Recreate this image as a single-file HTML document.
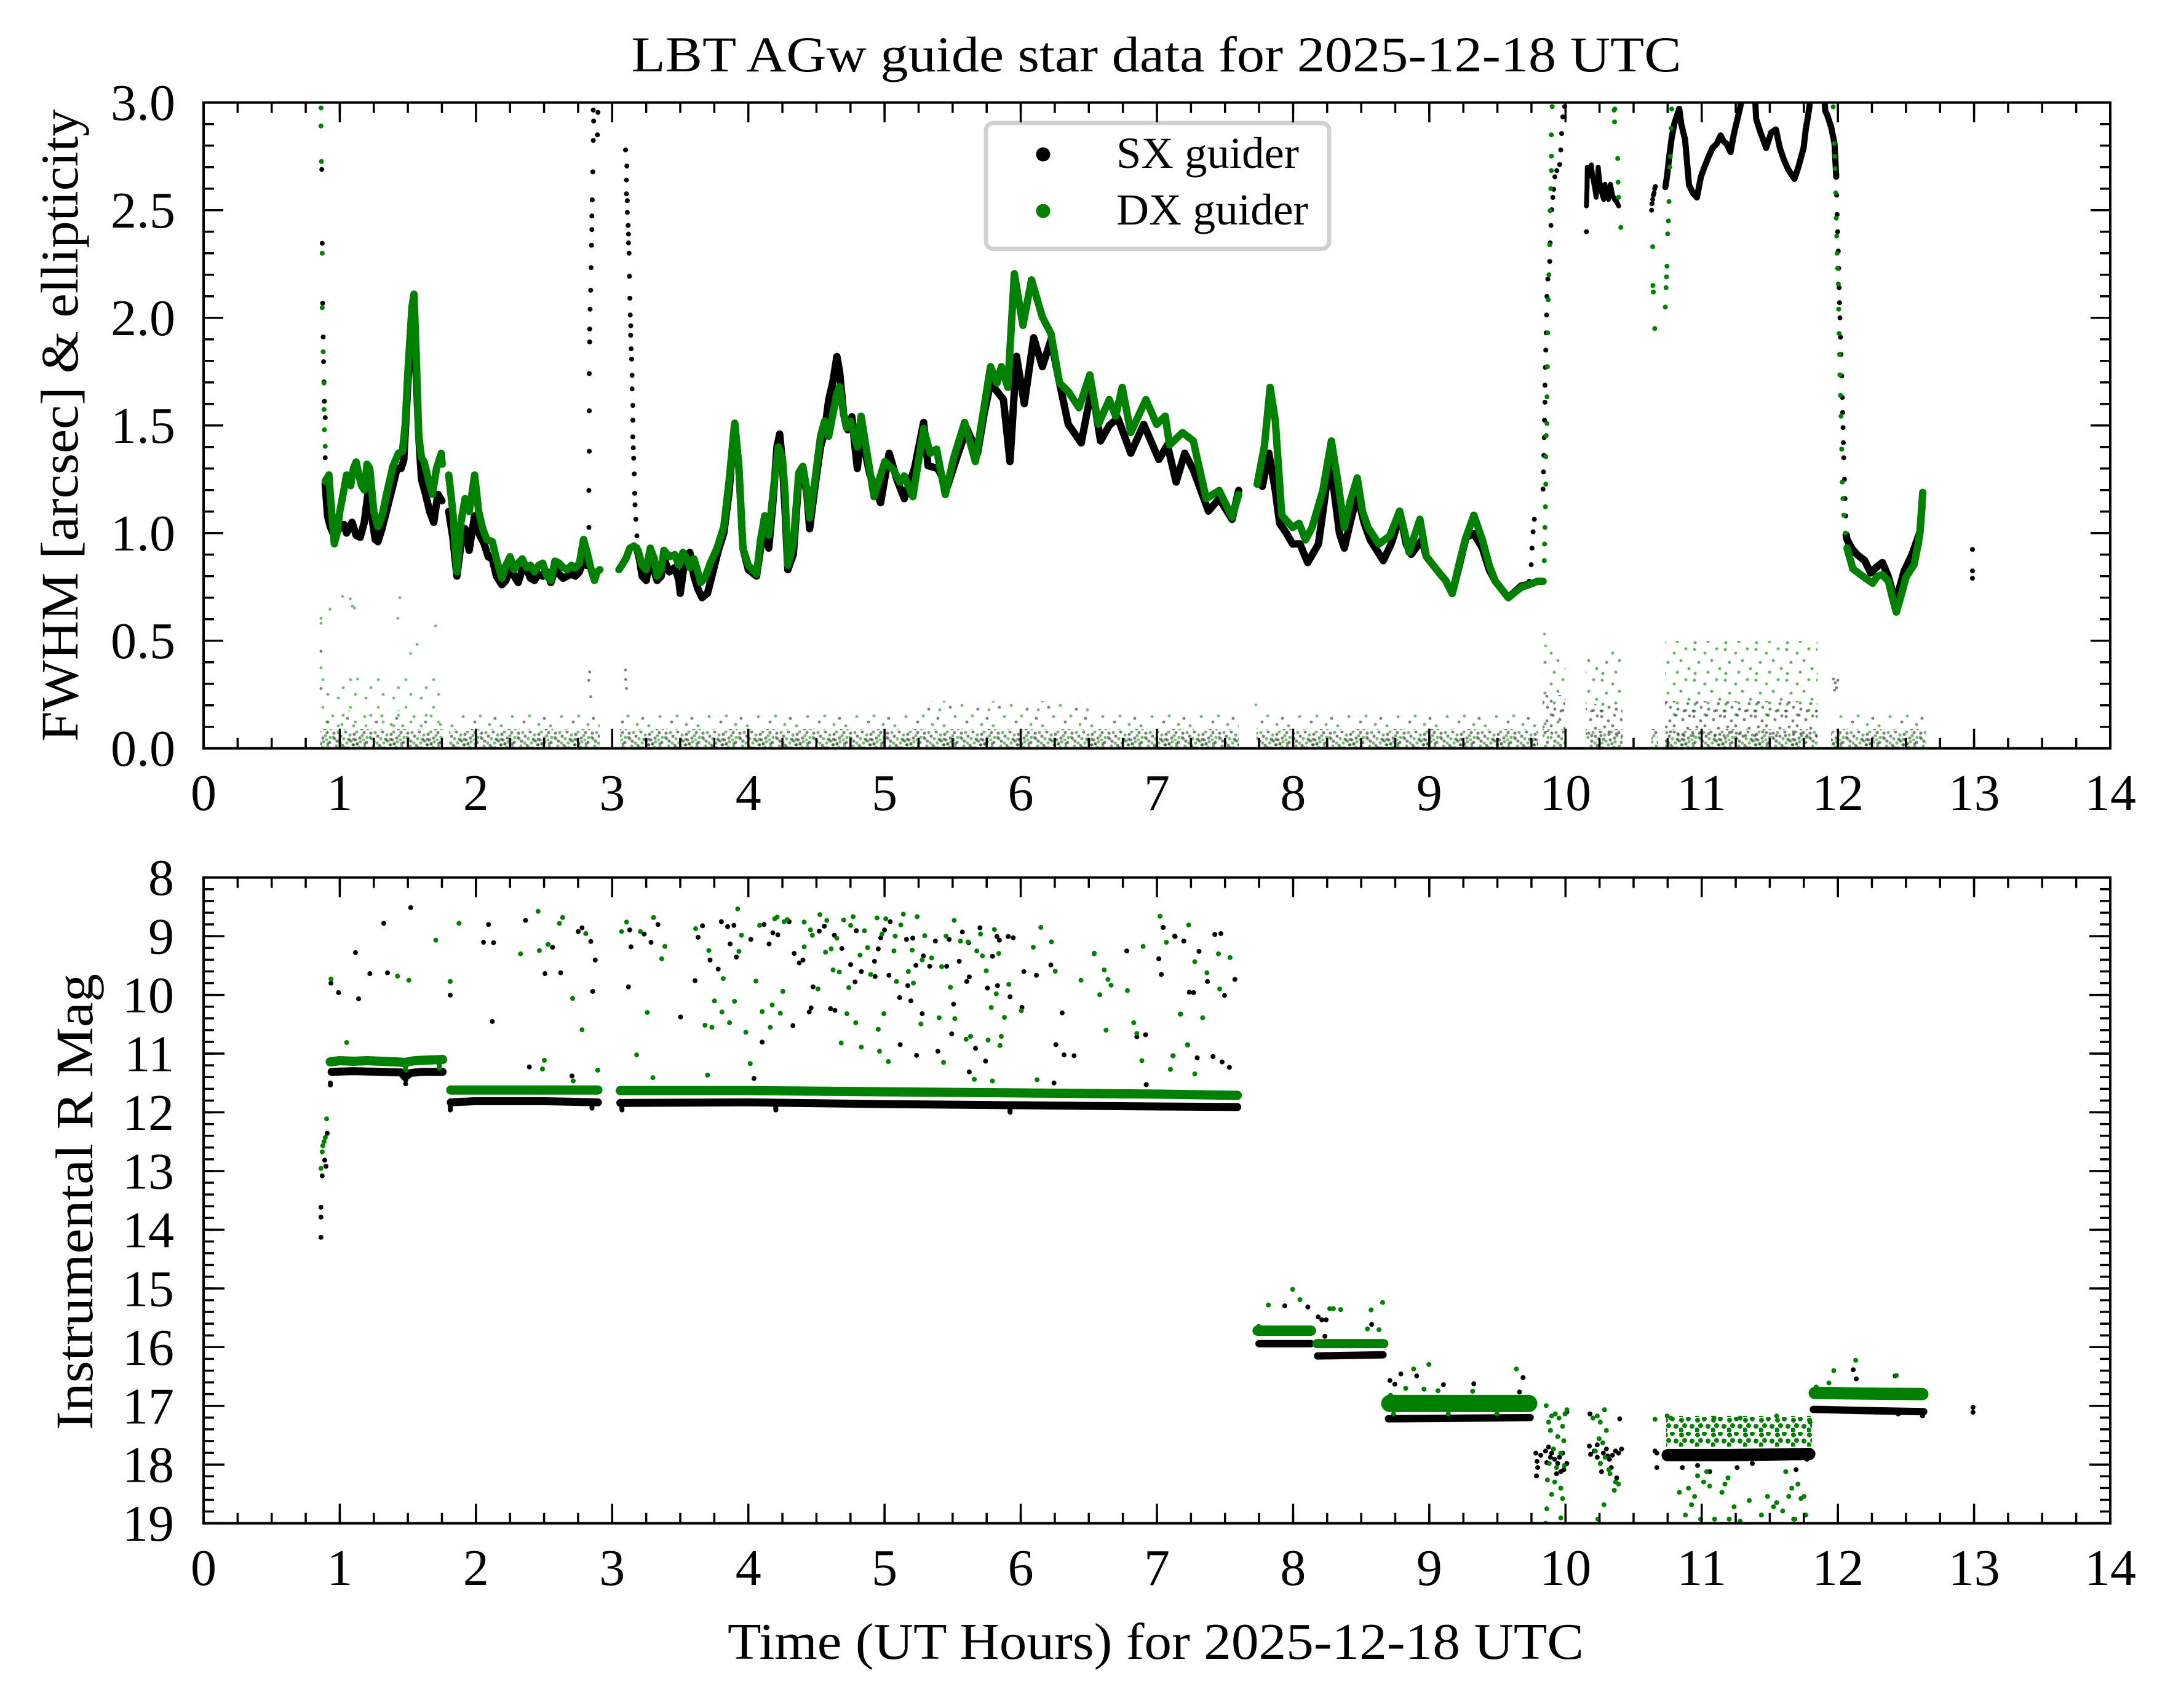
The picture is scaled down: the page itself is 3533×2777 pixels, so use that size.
<!DOCTYPE html>
<html><head><meta charset="utf-8">
<style>
html,body{margin:0;padding:0;background:#fff}
svg{display:block}
.n{vector-effect:non-scaling-stroke;fill:none;stroke-linecap:round;stroke-linejoin:round}
</style></head>
<body>
<svg xmlns="http://www.w3.org/2000/svg" width="3533" height="2777" viewBox="0 0 3533 2777" font-family="'Liberation Serif', serif">
<defs>
<clipPath id="c1"><rect x="331" y="166.7" width="3100" height="1050"/></clipPath>
<clipPath id="c2"><rect x="331" y="1426.7" width="3100" height="1050"/></clipPath>
<pattern id="pd" patternUnits="userSpaceOnUse" width="60" height="36">
<g fill="#000" fill-opacity=".5"><circle cx="3" cy="4" r="2.6"/><circle cx="14" cy="9" r="2.6"/><circle cx="22" cy="2" r="2.6"/><circle cx="8" cy="17" r="2.6"/><circle cx="27" cy="14" r="2.6"/><circle cx="17" cy="24" r="2.6"/><circle cx="4" cy="31" r="2.6"/><circle cx="25" cy="28" r="2.6"/><circle cx="36" cy="6" r="2.6"/><circle cx="45" cy="12" r="2.6"/><circle cx="52" cy="3" r="2.6"/><circle cx="41" cy="21" r="2.6"/><circle cx="56" cy="19" r="2.6"/><circle cx="33" cy="30" r="2.6"/><circle cx="48" cy="33" r="2.6"/><circle cx="38" cy="15" r="2.6"/></g>
<g fill="#008000" fill-opacity=".55"><circle cx="10" cy="3" r="2.6"/><circle cx="19" cy="13" r="2.6"/><circle cx="2" cy="11" r="2.6"/><circle cx="13" cy="20" r="2.6"/><circle cx="24" cy="20" r="2.6"/><circle cx="7" cy="25" r="2.6"/><circle cx="29" cy="7" r="2.6"/><circle cx="20" cy="32" r="2.6"/><circle cx="40" cy="2" r="2.6"/><circle cx="49" cy="8" r="2.6"/><circle cx="57" cy="11" r="2.6"/><circle cx="35" cy="23" r="2.6"/><circle cx="44" cy="27" r="2.6"/><circle cx="53" cy="25" r="2.6"/><circle cx="31" cy="17" r="2.6"/><circle cx="58" cy="33" r="2.6"/><circle cx="46" cy="18" r="2.6"/></g>
</pattern>
<pattern id="pd2" patternUnits="userSpaceOnUse" width="60" height="36" patternTransform="translate(31 19)">
<g fill="#000" fill-opacity=".45"><circle cx="3" cy="4" r="2.5"/><circle cx="22" cy="2" r="2.5"/><circle cx="27" cy="14" r="2.5"/><circle cx="4" cy="31" r="2.5"/><circle cx="45" cy="12" r="2.5"/><circle cx="41" cy="21" r="2.5"/><circle cx="33" cy="30" r="2.5"/></g>
<g fill="#008000" fill-opacity=".5"><circle cx="10" cy="3" r="2.5"/><circle cx="2" cy="11" r="2.5"/><circle cx="24" cy="20" r="2.5"/><circle cx="20" cy="32" r="2.5"/><circle cx="49" cy="8" r="2.5"/><circle cx="35" cy="23" r="2.5"/><circle cx="53" cy="25" r="2.5"/><circle cx="58" cy="33" r="2.5"/></g>
</pattern>
<pattern id="pm" patternUnits="userSpaceOnUse" width="80" height="40">
<g fill="#000" fill-opacity=".5"><circle cx="5" cy="8" r="2.5"/><circle cx="25" cy="30" r="2.5"/><circle cx="52" cy="14" r="2.5"/><circle cx="70" cy="33" r="2.5"/></g>
<g fill="#008000" fill-opacity=".55"><circle cx="15" cy="20" r="2.5"/><circle cx="33" cy="5" r="2.5"/><circle cx="8" cy="34" r="2.5"/><circle cx="44" cy="27" r="2.5"/><circle cx="61" cy="4" r="2.5"/><circle cx="76" cy="18" r="2.5"/></g>
</pattern>
<pattern id="pg" patternUnits="userSpaceOnUse" width="50" height="50">
<g fill="#008000" fill-opacity=".6"><circle cx="5" cy="6" r="2.5"/><circle cx="22" cy="12" r="2.5"/><circle cx="12" cy="27" r="2.5"/><circle cx="33" cy="24" r="2.5"/><circle cx="41" cy="5" r="2.5"/><circle cx="46" cy="37" r="2.5"/><circle cx="27" cy="43" r="2.5"/><circle cx="6" cy="45" r="2.5"/></g>
</pattern>
<pattern id="pgl" patternUnits="userSpaceOnUse" width="45" height="45">
<g fill="#008000" fill-opacity=".55"><circle cx="10" cy="10" r="2.4"/><circle cx="30" cy="25" r="2.4"/><circle cx="18" cy="38" r="2.4"/><circle cx="38" cy="4" r="2.4"/></g>
</pattern>
<pattern id="pb" patternUnits="userSpaceOnUse" width="50" height="40">
<g fill="#000" fill-opacity=".5"><circle cx="4" cy="5" r="2.5"/><circle cx="15" cy="12" r="2.5"/><circle cx="25" cy="3" r="2.5"/><circle cx="9" cy="22" r="2.5"/><circle cx="22" cy="20" r="2.5"/><circle cx="28" cy="33" r="2.5"/><circle cx="16" cy="30" r="2.5"/><circle cx="36" cy="10" r="2.5"/><circle cx="44" cy="24" r="2.5"/><circle cx="38" cy="36" r="2.5"/><circle cx="47" cy="4" r="2.5"/><circle cx="3" cy="36" r="2.5"/></g>
</pattern>
<pattern id="pG" patternUnits="userSpaceOnUse" width="26" height="24">
<g fill="#008000"><circle cx="4" cy="5" r="4"/><circle cx="15" cy="3" r="4"/><circle cx="9" cy="14" r="4"/><circle cx="21" cy="15" r="4"/><circle cx="3" cy="21" r="4"/></g>
</pattern>
</defs>

<rect width="3533" height="2777" fill="#fff"/>

<!-- ================= TOP PANEL ================= -->
<g clip-path="url(#c1)">
<g fill="url(#pm)">
<rect x="521" y="1155" width="199" height="30"/>
<rect x="730" y="1157" width="245" height="28"/>
<rect x="1008" y="1157" width="1006" height="28"/>
<rect x="1505" y="1140" width="265" height="17"/>
<rect x="2043" y="1160" width="458" height="25"/>
<rect x="2977" y="1157" width="155" height="28"/>
</g>
<g fill="url(#pd)">
<rect x="521" y="1185" width="199" height="31.7"/>
<rect x="730" y="1185" width="245" height="31.7"/>
<rect x="1008" y="1185" width="1006" height="31.7"/>
<rect x="2043" y="1185" width="458" height="31.7"/>
<rect x="2508" y="1185" width="37" height="31.7"/>
<rect x="2578" y="1185" width="60" height="31.7"/>
<rect x="2685" y="1185" width="11" height="31.7"/>
<rect x="2707" y="1185" width="248" height="31.7"/>
<rect x="2977" y="1185" width="155" height="31.7"/>
</g>
<g fill="url(#pd2)">
<rect x="521" y="1198" width="199" height="18.7"/>
<rect x="730" y="1198" width="245" height="18.7"/>
<rect x="1008" y="1198" width="1006" height="18.7"/>
<rect x="2043" y="1198" width="458" height="18.7"/>
<rect x="2707" y="1198" width="248" height="18.7"/>
<rect x="2977" y="1198" width="155" height="18.7"/>
</g>
<rect x="521" y="1094" width="199" height="91" fill="url(#pgl)"/>
<g fill="url(#pg)">
<rect x="2508" y="1059" width="37" height="126"/>
<rect x="2578" y="1059" width="60" height="101"/>
<rect x="2707" y="1042" width="248" height="128"/>
</g>
<g fill="url(#pb)">
<rect x="2508" y="1130" width="37" height="60"/>
<rect x="2578" y="1145" width="60" height="55"/>
<rect x="2707" y="1140" width="248" height="60"/>
</g>
<g fill="#008000" fill-opacity=".55">
<circle cx="536.5" cy="990.6" r="2.4"/><circle cx="556.9" cy="969.6" r="2.4"/><circle cx="569.5" cy="973.8" r="2.4"/><circle cx="573" cy="985.4" r="2.4"/><circle cx="576.6" cy="988.5" r="2.4"/><circle cx="650.1" cy="971.7" r="2.4"/><circle cx="646.8" cy="1005.3" r="2.4"/><circle cx="708.3" cy="1017.6" r="2.4"/><circle cx="521.9" cy="1005.3" r="2.4"/><circle cx="521.9" cy="1013.4" r="2.4"/><circle cx="678.2" cy="1047.7" r="2.4"/><circle cx="667.6" cy="1062.4" r="2.4"/><circle cx="581.4" cy="1104" r="2.4"/><circle cx="521.9" cy="1085.8" r="2.4"/><circle cx="2511" cy="1031" r="2.4"/><circle cx="2513" cy="1050" r="2.4"/><circle cx="2042" cy="1146" r="2.4"/>
</g>
<g fill="#000" fill-opacity=".5">
<circle cx="521.9" cy="1058.9" r="2.4"/><circle cx="521.9" cy="1119.4" r="2.4"/><circle cx="958.7" cy="1092.5" r="2.4"/><circle cx="957.4" cy="1106.1" r="2.4"/><circle cx="960.3" cy="1132.7" r="2.4"/><circle cx="1017" cy="1089.3" r="2.4"/><circle cx="1018.5" cy="1119.4" r="2.4"/><circle cx="1017.4" cy="1104.7" r="2.4"/>
<circle cx="2981" cy="1104" r="2.4"/><circle cx="2984" cy="1110" r="2.4"/><circle cx="2986" cy="1118" r="2.4"/><circle cx="2983" cy="1122" r="2.4"/><circle cx="2988" cy="1106" r="2.4"/>
</g>

<g transform="translate(331 1216.7) scale(221.43 -350)">
<g stroke="#000">
<path class="n" stroke-width="12" d="M0.893 1.23L0.91 1.08 0.93 1.03 0.95 1.0 0.98 1.04 1.0 1.02 1.03 1.04 1.05 1.0 1.09 1.05 1.12 0.99 1.15 0.98 1.18 1.05 1.21 1.2 1.23 1.1 1.26 0.97 1.28 0.96 1.31 1.02 1.35 1.12 1.39 1.22 1.42 1.3 1.45 1.3 1.47 1.34 1.5 1.7 1.52 1.9 1.54 2.02 1.56 1.75 1.58 1.45 1.6 1.25 1.63 1.18 1.66 1.1 1.69 1.05 1.72 1.18 1.75 1.15"/>
<path class="n" stroke-width="12" d="M1.8 1.1L1.83 0.98 1.86 0.8 1.89 0.95 1.92 1.02 1.95 0.92 1.97 1.0 1.99 1.08 2.02 1.0 2.06 0.95 2.09 0.89 2.12 0.88 2.15 0.8 2.19 0.76 2.22 0.78 2.25 0.84 2.28 0.8 2.31 0.77 2.34 0.83 2.37 0.84 2.4 0.79 2.43 0.78 2.46 0.81 2.49 0.8 2.52 0.82 2.55 0.77 2.58 0.83 2.61 0.81 2.64 0.79 2.67 0.8 2.7 0.81 2.73 0.8 2.76 0.82 2.79 0.89 2.81 0.85"/>
<path class="n" stroke-width="12" d="M3.18 0.93L3.2 0.88 3.22 0.8 3.25 0.78 3.28 0.9 3.31 0.82 3.33 0.78 3.36 0.8 3.38 0.88 3.42 0.82 3.46 0.84 3.49 0.78 3.5 0.72 3.53 0.86 3.57 0.91 3.6 0.8 3.63 0.74 3.66 0.7 3.7 0.72 3.74 0.82 3.78 0.92 3.82 1.0 3.86 1.2 3.89 1.45 3.9 1.51 3.93 1.31 3.96 0.93 4.0 0.83 4.06 0.8 4.09 0.93 4.12 1.04 4.15 0.93 4.18 1.14 4.21 1.4 4.23 1.46 4.25 1.33 4.27 1.1 4.29 0.83 4.33 0.9 4.37 1.25 4.4 1.3 4.43 1.18 4.45 1.02 4.49 1.22 4.53 1.4 4.56 1.47 4.59 1.62 4.62 1.7 4.65 1.82 4.67 1.75 4.7 1.55 4.73 1.48 4.76 1.54 4.8 1.3 4.828 1.467 4.891 1.275 4.971 1.141 5.034 1.371 5.09 1.25 5.145 1.16 5.22 1.3 5.287 1.514 5.319 1.313 5.39 1.3 5.462 1.217 5.53 1.35 5.604 1.486 5.683 1.371 5.73 1.55 5.778 1.697 5.873 1.62 5.921 1.332 5.969 1.821 6.026 1.601 6.095 1.907 6.159 1.773 6.222 1.898 6.285 1.697 6.349 1.505 6.444 1.419 6.523 1.677 6.586 1.428 6.65 1.5 6.713 1.534 6.808 1.371 6.903 1.505 7.014 1.342 7.077 1.409 7.141 1.237 7.204 1.371 7.267 1.294 7.378 1.102 7.457 1.16 7.552 1.064 7.6 1.198"/>
<path class="n" stroke-width="12" d="M7.774 1.217L7.822 1.371 7.869 1.198 7.901 1.045 7.95 1.0 7.996 0.949 8.05 0.95 8.107 0.863 8.186 0.949 8.265 1.313 8.3 1.2 8.34 1.0 8.376 0.93 8.42 1.05 8.471 1.179 8.52 1.05 8.566 0.968 8.662 0.872 8.72 0.95 8.788 1.083 8.83 0.95 8.867 0.901 8.946 0.968 8.978 0.891 9.073 0.815 9.12 0.78 9.168 0.719 9.22 0.85 9.27 0.98 9.327 0.997 9.39 0.93 9.44 0.83 9.485 0.776 9.58 0.7 9.675 0.754 9.72 0.76"/>
<path class="n" stroke-width="12" d="M12.061 0.99L12.067 0.97 12.1 0.93 12.139 0.901 12.197 0.872 12.241 0.815 12.28 0.84 12.327 0.863 12.371 0.796 12.4 0.73 12.423 0.681 12.45 0.74 12.487 0.824 12.545 0.901 12.603 1.006 12.617 1.122"/>
<path class="n" stroke-width="10" d="M10.733 2.607L10.745 2.655 10.762 2.751 10.78 2.837 10.8 2.904 10.82 2.942 10.835 2.971 10.85 2.9 10.878 2.827 10.907 2.617 10.935 2.58 10.965 2.559 10.994 2.655 11.02 2.7 11.052 2.751 11.08 2.79 11.11 2.808 11.139 2.847 11.16 2.82 11.183 2.808 11.212 2.77 11.235 2.85 11.255 2.904 11.284 2.981 11.3 3.05 11.39 3.05 11.4 2.923 11.429 2.866 11.45 2.83 11.473 2.789 11.51 2.86 11.545 2.875 11.574 2.789 11.6 2.74 11.632 2.693 11.655 2.67 11.681 2.645 11.71 2.7 11.748 2.789 11.765 2.88 11.777 2.923 11.791 2.981 11.8 3.05 11.9 3.05 11.907 2.96 11.922 2.942 11.951 2.885 11.975 2.81 11.988 2.655"/>
<path class="n" stroke-width="8" d="M10.154 2.52L10.158 2.6 10.16 2.7 10.175 2.66 10.19 2.71 10.2 2.65 10.215 2.6 10.225 2.56 10.24 2.7 10.25 2.64 10.265 2.58 10.28 2.55 10.29 2.62 10.3 2.58 10.315 2.55 10.33 2.62 10.345 2.57 10.36 2.55 10.375 2.54 10.39 2.52"/>
<path class="n" stroke-width="8" d="M2.829 1.026h.0002M2.829 1.198h.0002M2.832 1.38h.0002M2.832 1.568h.0002M2.832 1.741h.0002M2.835 1.888h.0002M2.835 1.948h.0002M2.838 2.04h.0002M2.842 2.128h.0002M2.845 2.233h.0002M2.848 2.337h.0002M2.851 2.41h.0002M2.851 2.473h.0002M2.854 2.548h.0002M2.858 2.678h.0002M2.861 2.824h.0002M2.864 2.914h.0002M2.861 2.965h.0002M2.896 2.954h.0002M2.892 2.85h.0002
M3.098 2.78h.0002M3.108 2.705h.0002M3.105 2.64h.0002M3.105 2.576h.0002M3.111 2.544h.0002M3.111 2.49h.0002M3.117 2.429h.0002M3.12 2.389h.0002M3.12 2.348h.0002M3.124 2.3h.0002M3.127 2.193h.0002M3.13 2.091h.0002M3.133 2.013h.0002M3.136 1.963h.0002M3.136 1.919h.0002M3.139 1.856h.0002M3.143 1.808h.0002M3.146 1.733h.0002M3.146 1.67h.0002M3.152 1.593h.0002M3.152 1.524h.0002M3.152 1.447h.0002M3.155 1.396h.0002M3.158 1.348h.0002M3.162 1.275h.0002M3.165 1.185h.0002M3.168 1.131h.0002M3.174 1.064h.0002M3.181 0.987h.0002
M0.868 2.689h.0002M0.871 2.346h.0002M0.874 2.068h.0002M0.878 1.911h.0002M0.881 1.796h.0002M0.884 1.702h.0002M0.887 1.612h.0002M0.893 1.536h.0002M0.893 1.35h.0002
M9.733 0.776h.0002M9.748 0.853h.0002M9.754 0.93h.0002M9.762 1.006h.0002M9.771 1.064h.0002M9.835 1.204h.0002M9.838 1.284h.0002M9.841 1.361h.0002M9.844 1.444h.0002M9.846 1.524h.0002M9.849 1.608h.0002M9.849 1.687h.0002M9.852 1.77h.0002M9.855 1.85h.0002M9.858 1.93h.0002M9.861 2.013h.0002M9.864 2.099h.0002M9.87 2.18h.0002M9.884 2.262h.0002M9.887 2.348h.0002M9.893 2.429h.0002M9.899 2.502h.0002M9.907 2.559h.0002M9.913 2.597h.0002M9.922 2.655h.0002M9.936 2.684h.0002M9.957 2.712h.0002M9.965 2.78h.0002M9.971 2.856h.0002M9.98 2.933h.0002M9.994 2.981h.0002
M10.154 2.4h.0002M10.632 2.5h.0002M10.635 2.53h.0002M10.64 2.55h.0002M10.645 2.57h.0002M10.65 2.58h.0002M10.655 2.6h.0002M10.66 2.61h.0002
M11.988 2.655h.0002M11.991 2.57h.0002M11.994 2.48h.0002M11.998 2.4h.0002M12.003 2.31h.0002M12.006 2.23h.0002M12.009 2.14h.0002M12.012 2.07h.0002M12.015 2.0h.0002M12.019 1.91h.0002M12.023 1.83h.0002M12.028 1.73h.0002M12.032 1.63h.0002M12.035 1.56h.0002M12.038 1.49h.0002M12.04 1.42h.0002M12.043 1.35h.0002M12.048 1.25h.0002M12.052 1.16h.0002M12.057 1.08h.0002
M12.988 0.924h.0002M12.988 0.824h.0002M12.988 0.79h.0002"/>
</g>
<g stroke="#008000">
<path class="n" stroke-width="12" d="M0.893 1.24L0.92 1.27 0.94 1.1 0.96 0.95 0.98 1.0 1.0 1.1 1.03 1.2 1.05 1.27 1.08 1.22 1.1 1.3 1.12 1.33 1.14 1.27 1.16 1.22 1.18 1.2 1.2 1.32 1.22 1.3 1.25 1.1 1.28 1.03 1.31 1.08 1.35 1.2 1.39 1.31 1.43 1.37 1.46 1.38 1.48 1.5 1.5 1.75 1.53 2.05 1.545 2.11 1.56 1.85 1.58 1.45 1.6 1.35 1.62 1.33 1.65 1.25 1.68 1.18 1.71 1.3 1.745 1.37 1.752 1.32"/>
<path class="n" stroke-width="12" d="M1.8 1.27L1.83 1.1 1.86 0.82 1.89 1.05 1.92 1.16 1.95 1.1 1.97 1.18 1.99 1.27 2.02 1.1 2.05 1.02 2.08 0.97 2.12 0.96 2.15 0.88 2.19 0.79 2.22 0.85 2.25 0.89 2.28 0.83 2.31 0.86 2.34 0.88 2.37 0.84 2.4 0.85 2.43 0.82 2.46 0.85 2.49 0.86 2.52 0.8 2.55 0.78 2.58 0.87 2.61 0.86 2.64 0.84 2.67 0.83 2.7 0.85 2.73 0.84 2.76 0.86 2.79 0.97 2.82 0.9 2.85 0.82 2.87 0.78 2.89 0.82 2.91 0.83"/>
<path class="n" stroke-width="12" d="M3.05 0.83L3.07 0.85 3.1 0.88 3.13 0.93 3.16 0.94 3.19 0.92 3.22 0.85 3.25 0.83 3.28 0.93 3.31 0.88 3.33 0.8 3.36 0.83 3.38 0.92 3.42 0.89 3.46 0.9 3.49 0.85 3.52 0.91 3.55 0.88 3.57 0.84 3.6 0.88 3.62 0.84 3.65 0.77 3.68 0.79 3.72 0.86 3.77 0.93 3.82 1.03 3.86 1.25 3.89 1.45 3.9 1.51 3.93 1.31 3.96 0.93 4.0 0.85 4.06 0.81 4.09 0.97 4.12 1.08 4.15 0.99 4.18 1.18 4.22 1.4 4.25 1.35 4.27 1.18 4.29 0.85 4.33 0.95 4.37 1.28 4.4 1.31 4.43 1.2 4.45 1.07 4.49 1.25 4.53 1.45 4.56 1.52 4.59 1.45 4.62 1.55 4.65 1.65 4.67 1.68 4.7 1.55 4.72 1.49 4.75 1.52 4.8 1.4 4.828 1.543 4.876 1.352 4.923 1.169 5.002 1.332 5.066 1.294 5.113 1.236 5.145 1.265 5.208 1.169 5.287 1.486 5.335 1.371 5.382 1.39 5.446 1.179 5.509 1.352 5.588 1.514 5.667 1.332 5.778 1.773 5.826 1.697 5.858 1.773 5.905 1.677 5.953 2.205 6.016 1.965 6.079 2.176 6.159 2.003 6.222 1.927 6.285 1.697 6.349 1.658 6.428 1.582 6.507 1.735 6.57 1.505 6.65 1.62 6.697 1.543 6.745 1.677 6.808 1.467 6.919 1.62 6.998 1.505 7.061 1.543 7.093 1.409 7.188 1.467 7.267 1.428 7.362 1.16 7.457 1.198 7.552 1.074 7.6 1.179"/>
<path class="n" stroke-width="12" d="M7.736 1.227L7.79 1.409 7.831 1.677 7.869 1.524 7.917 1.083 7.996 1.026 8.044 1.045 8.091 0.968 8.139 1.026 8.218 1.198 8.281 1.428 8.329 1.237 8.376 1.026 8.42 1.15 8.471 1.256 8.51 1.1 8.55 1.026 8.63 0.949 8.709 0.987 8.782 1.102 8.82 1.0 8.851 0.911 8.931 1.064 8.978 0.891 9.073 0.815 9.12 0.78 9.168 0.719 9.22 0.86 9.263 0.968 9.327 1.083 9.39 0.968 9.44 0.85 9.485 0.776 9.58 0.7 9.675 0.748 9.73 0.76 9.795 0.776 9.835 0.776"/>
<path class="n" stroke-width="12" d="M12.067 0.93L12.11 0.834 12.16 0.81 12.212 0.786 12.255 0.767 12.29 0.8 12.327 0.806 12.371 0.776 12.4 0.7 12.429 0.633 12.46 0.7 12.501 0.796 12.559 0.853 12.59 0.95 12.603 1.006 12.623 1.189"/>
<path class="n" stroke-width="8" d="M0.862 2.975h.0002M0.862 2.891h.0002M0.865 2.726h.0002M0.871 2.3h.0002M0.871 2.047h.0002M0.878 1.842h.0002M0.884 1.697h.0002M0.884 1.574h.0002M0.887 1.48h.0002M0.893 1.403h.0002
M9.844 0.872h.0002M9.846 0.949h.0002M9.849 1.026h.0002M9.852 1.122h.0002M9.855 1.227h.0002M9.855 1.355h.0002M9.858 1.453h.0002M9.864 1.509h.0002M9.864 1.633h.0002M9.867 1.773h.0002M9.87 1.93h.0002M9.873 2.084h.0002M9.878 2.2h.0002M9.884 2.339h.0002M9.887 2.498h.0002M9.892 2.6h.0002M9.896 2.684h.0002M9.896 2.751h.0002M9.896 2.85h.0002M9.902 2.981h.0002
M10.357 2.965h.0002M10.362 2.97h.0002M10.36 2.91h.0002M10.383 2.74h.0002M10.386 2.63h.0002M10.39 2.56h.0002M10.406 2.42h.0002M10.64 2.33h.0002M10.642 2.15h.0002M10.645 2.12h.0002M10.655 1.95h.0002M10.733 2.05h.0002M10.738 2.14h.0002M10.742 2.19h.0002M10.745 2.24h.0002M10.75 2.39h.0002M10.755 2.45h.0002M10.76 2.54h.0002M10.765 2.7h.0002M10.77 2.75h.0002M10.775 2.88h.0002M10.78 2.97h.0002
M11.965 2.98h.0002M11.974 2.81h.0002M11.977 2.75h.0002M11.98 2.693h.0002M11.984 2.58h.0002M11.988 2.463h.0002M11.991 2.38h.0002M11.994 2.3h.0002M11.998 2.23h.0002M12.003 2.157h.0002M12.006 2.04h.0002M12.009 1.927h.0002M12.012 1.83h.0002M12.015 1.735h.0002M12.019 1.64h.0002M12.023 1.543h.0002M12.028 1.39h.0002M12.032 1.237h.0002M12.037 1.16h.0002M12.043 1.083h.0002M12.055 1.0h.0002"/>
</g>
</g>
</g>

<!-- ================= BOTTOM PANEL ================= -->
<g clip-path="url(#c2)">
<g transform="translate(331 663.1) scale(221.43 95.45)">
<g stroke="#000">
<path class="n" stroke-width="13" d="M0.94 11.31L1.1 11.3 1.3 11.31 1.45 11.32 1.48 11.4 1.52 11.33 1.6 11.31 1.755 11.31"/>
<path class="n" stroke-width="13" d="M1.815 11.83L2.0 11.81 2.5 11.81 2.895 11.83"/>
<path class="n" stroke-width="13" d="M3.06 11.84L4 11.83 5 11.86 6 11.88 7 11.9 7.59 11.91"/>
<path class="n" stroke-width="12" d="M7.75 15.94L8.13 15.94"/>
<path class="n" stroke-width="12" d="M8.18 16.15L8.66 16.13"/>
<path class="n" stroke-width="12" d="M8.7 17.22L9.74 17.2"/>
<path class="n" stroke-width="20" d="M10.75 17.84L11.2 17.84 11.79 17.82"/>
<path class="n" stroke-width="12" d="M11.82 17.06L12.2 17.08 12.63 17.1"/>
<path class="n" stroke-width="8" d="M1.48 11.35L1.485 11.45M1.81 11.83L1.812 11.96M2.85 11.83L2.852 11.93M3.07 11.84L3.072 11.96M4.2 11.83L4.202 11.96M5.92 11.88L5.922 12.0"/>
</g>
<g stroke="#008000">
<path class="n" stroke-width="15" d="M0.93 11.14L1.0 11.12 1.1 11.13 1.2 11.12 1.3 11.13 1.4 11.14 1.48 11.15 1.55 11.12 1.65 11.11 1.755 11.1"/>
<path class="n" stroke-width="8" d="M1.48 11.14L1.485 11.28M1.73 11.1L1.732 11.25"/>
<path class="n" stroke-width="15" d="M1.815 11.62L2.895 11.62"/>
<path class="n" stroke-width="15" d="M3.06 11.63L4 11.63 5 11.65 6 11.67 7 11.69 7.59 11.71"/>
<path class="n" stroke-width="17" d="M7.74 15.72L8.13 15.72"/>
<path class="n" stroke-width="15" d="M8.175 15.94L8.665 15.94"/>
<path class="n" stroke-width="28" d="M8.71 16.96L9.73 16.96"/>
<path class="n" stroke-width="20" d="M11.83 16.78L12.2 16.79 12.62 16.8"/>
</g>
</g>
<rect x="2709" y="2302" width="237" height="50" fill="url(#pG)"/>

<g transform="translate(331 1426.7) scale(1.0204 0.6709)">
<path class="n" stroke="#000" stroke-width="8" d="M187 872h.01M187 823h.01M187 799h.01M189 723h.01M195 700h.01M193 685h.01M197 620h.01M202 503h.01M202 498h.01M203 256h.01M215 279h.01M242 182h.01M247 294h.01M265 233h.01M287 111h.01M293 231h.01M330 73h.01M322 500h.01M393 285h.01M446 157h.01M454 114h.01M460 349h.01M462 158h.01M513 104h.01M519 459h.01M544 233h.01M556 169h.01M569 231h.01M587 481h.01M597 131h.01M603 122h.01M617 155h.01M620 276h.01M624 200h.01M677 265h.01M679 127h.01M681 168h.01M702 137h.01M713 157h.01M724 114h.01M760 338h.01M783 250h.01M788 145h.01M795 117h.01M807 200h.01M820 222h.01M825 107h.01M835 119h.01M839 161h.01M845 116h.01M849 193h.01M872 150h.01M877 487h.01M890 399h.01M893 114h.01M901 161h.01M907 134h.01M915 139h.01M933 107h.01M939 359h.01M941 184h.01M949 207h.01M955 200h.01M965 326h.01M968 316h.01M971 265h.01M981 130h.01M989 118h.01M999 318h.01M1005 140h.01M1006 322h.01M1017 172h.01M1031 211h.01M1038 253h.01M1040 129h.01M1048 228h.01M1069 203h.01M1070 240h.01M1075 173h.01M1079 146h.01M1085 127h.01M1092 237h.01M1094 107h.01M1109 291h.01M1110 405h.01M1120 150h.01M1122 262h.01M1127 299h.01M1130 147h.01M1135 213h.01M1136 431h.01M1145 330h.01M1147 190h.01M1157 215h.01M1166 154h.01M1170 421h.01M1184 215h.01M1188 150h.01M1192 379h.01M1195 307h.01M1204 203h.01M1209 132h.01M1216 252h.01M1220 241h.01M1219 158h.01M1220 471h.01M1230 414h.01M1237 122h.01M1246 445h.01M1249 268h.01M1257 191h.01M1264 143h.01M1265 262h.01M1268 152h.01M1282 143h.01M1285 289h.01M1290 146h.01M1304 315h.01M1307 228h.01M1327 237h.01M1350 212h.01M1355 498h.01M1358 405h.01M1368 328h.01M1371 430h.01M1387 432h.01M1419 184h.01M1471 178h.01M1487 386h.01M1501 381h.01M1502 502h.01M1522 197h.01M1526 235h.01M1529 121h.01M1548 143h.01M1562 154h.01"/>
<path class="n" stroke="#008000" stroke-width="8" d="M187 705h.01M189 665h.01M190 650h.01M192 640h.01M194 630h.01M196 585h.01M203 246h.01M228 400h.01M309 239h.01M327 249h.01M370 152h.01M393 252h.01M407 111h.01M505 185h.01M533 82h.01M535 177h.01M540 464h.01M543 443h.01M549 162h.01M567 111h.01M572 97h.01M588 293h.01M589 493h.01M603 369h.01M609 136h.01M628 467h.01M666 131h.01M674 108h.01M690 430h.01M696 131h.01M707 327h.01M717 97h.01M716 485h.01M730 197h.01M735 167h.01M784 124h.01M799 358h.01M803 479h.01M805 177h.01M810 363h.01M814 299h.01M826 326h.01M828 245h.01M838 352h.01M846 300h.01M851 76h.01M853 179h.01M857 140h.01M864 375h.01M871 451h.01M880 251h.01M886 116h.01M890 325h.01M903 363h.01M906 309h.01M910 100h.01M914 96h.01M919 329h.01M923 276h.01M925 107h.01M930 102h.01M957 108h.01M957 168h.01M967 127h.01M970 140h.01M979 270h.01M982 90h.01M991 181h.01M993 104h.01M1000 173h.01M1003 224h.01M1009 147h.01M1013 229h.01M1016 401h.01M1020 103h.01M1025 330h.01M1028 267h.01M1031 116h.01M1035 95h.01M1039 352h.01M1046 188h.01M1048 411h.01M1053 129h.01M1058 170h.01M1063 235h.01M1073 98h.01M1075 368h.01M1077 421h.01M1081 137h.01M1084 330h.01M1087 100h.01M1091 446h.01M1100 178h.01M1102 142h.01M1104 252h.01M1111 115h.01M1115 89h.01M1123 228h.01M1129 176h.01M1131 256h.01M1137 95h.01M1143 355h.01M1145 200h.01M1149 141h.01M1160 195h.01M1172 340h.01M1176 216h.01M1179 448h.01M1183 142h.01M1190 266h.01M1196 104h.01M1197 342h.01M1206 154h.01M1215 392h.01M1218 156h.01M1222 385h.01M1228 489h.01M1232 178h.01M1238 137h.01M1241 190h.01M1247 226h.01M1250 394h.01M1255 315h.01M1257 493h.01M1260 126h.01M1263 282h.01M1267 184h.01M1269 407h.01M1271 385h.01M1276 339h.01M1283 259h.01M1303 323h.01M1322 169h.01M1328 490h.01M1334 121h.01M1351 156h.01M1357 227h.01M1398 249h.01M1419 185h.01M1428 284h.01M1435 224h.01M1438 370h.01M1441 247h.01M1446 261h.01M1472 274h.01M1482 352h.01M1487 378h.01M1495 444h.01M1497 167h.01M1524 94h.01M1534 157h.01M1545 432h.01M1557 331h.01M1568 406h.01"/>
</g>

<g transform="translate(1900 1426.7) scale(0.98853 0.6709)">
<path class="n" stroke="#000" stroke-width="8" d="M10 142h.01M25 154h.01M50 179h.01M34 278h.01M41 279h.01M64 252h.01M76 138h.01M86 136h.01M92 286h.01M109 247h.01M47 437h.01M73 434h.01M88 447h.01M100 460h.01
M191 1038h.01M229 1041h.01M246 1065h.01M252 1072h.01M259 1072h.01M334 1083h.01M257 1112h.01
M364 1219h.01M372 1228h.01M382 1203h.01M408 1208h.01M452 1229h.01M502 1227h.01M583 1212h.01M577 1247h.01
M604 1395h.01M606 1415h.01M607 1430h.01M605 1450h.01M620 1390h.01M625 1380h.01M630 1395h.01M635 1410h.01M640 1420h.01M628 1405h.01M633 1385h.01M645 1440h.01M650 1435h.01M655 1420h.01M648 1395h.01M655 1295h.01M622 1418h.01M638 1445h.01M612 1400h.01M643 1405h.01
M692 1378h.01M694 1398h.01M693 1300h.01M700 1390h.01M705 1405h.01M710 1420h.01M715 1395h.01M720 1385h.01M725 1410h.01M730 1400h.01M735 1390h.01M740 1395h.01M742 1312h.01M737 1455h.01M728 1430h.01M712 1440h.01M705 1375h.01M722 1402h.01M745 1385h.01
M803 1395h.01M803 1430h.01M800 1390h.01M845 1430h.01M870 1425h.01M890 1440h.01M935 1430h.01M960 1420h.01M1032 1435h.01M1050 1410h.01
M1126 1193h.01M1131 1215h.01M1195 1208h.01M1240 1305h.01M1200 1300h.01
M1323 1284h.01M1323 1296h.01"/>
<path class="n" stroke="#008000" stroke-width="8" d="M33 115h.01M43 204h.01M63 231h.01M82 185h.01M101 194h.01M84 270h.01M19 331h.01M56 340h.01M31 405h.01M7 432h.01M3 465h.01M43 476h.01
M164 1036h.01M204 998h.01M216 1023h.01M265 1045h.01M271 1045h.01M283 1047h.01M333 1048h.01M352 1030h.01M327 1094h.01M346 1096h.01M148 1088h.01
M390 1238h.01M403 1191h.01M428 1180h.01M443 1244h.01M572 1191h.01M365 1255h.01M370 1300h.01M590 1290h.01M420 1240h.01M500 1245h.01M540 1300h.01M460 1300h.01
M621 1280h.01M625 1320h.01M630 1305h.01M636 1300h.01M642 1310h.01M648 1330h.01M652 1300h.01M655 1290h.01M628 1340h.01M640 1355h.01M650 1365h.01M633 1385h.01M645 1395h.01M626 1420h.01M638 1430h.01M651 1425h.01M623 1460h.01M635 1465h.01M645 1480h.01M630 1495h.01M648 1505h.01M622 1530h.01M645 1552h.01M620 1565h.01
M698 1310h.01M705 1305h.01M710 1320h.01M717 1290h.01M720 1340h.01M708 1360h.01M714 1370h.01M702 1390h.01M718 1405h.01M710 1420h.01M724 1435h.01M735 1465h.01M740 1470h.01M716 1520h.01M706 1555h.01M733 1485h.01M726 1445h.01
M800 1313h.01M820 1305h.01M826 1310h.01M897 1310h.01M940 1310h.01M1000 1305h.01M1055 1320h.01
M840 1490h.01M855 1480h.01M860 1520h.01M865 1500h.01M850 1545h.01M870 1450h.01M875 1555h.01M880 1465h.01M885 1440h.01M890 1475h.01M898 1555h.01M910 1490h.01M915 1470h.01M920 1455h.01M922 1555h.01M930 1525h.01M940 1560h.01M955 1510h.01M975 1545h.01M985 1500h.01M995 1525h.01M1000 1515h.01M1010 1535h.01M1015 1440h.01M1025 1480h.01M1030 1555h.01M1035 1470h.01M1040 1505h.01M1045 1500h.01M1048 1545h.01M1020 1500h.01M1028 1555h.01
M1094 1195h.01M1130 1170h.01M1197 1207h.01M1065 1235h.01M1062 1255h.01M1086 1225h.01"/>
</g>
</g>

<!-- ================= LEGEND ================= -->
<rect x="1603" y="200" width="558" height="204.5" rx="12" fill="#fff" fill-opacity="0.8" stroke="#d0d0d0" stroke-width="7"/>
<circle cx="1696" cy="251" r="11.5" fill="#000"/>
<circle cx="1696" cy="343" r="11.5" fill="#008000"/>
<text x="1815" y="273" font-size="72" textLength="297" lengthAdjust="spacingAndGlyphs">SX guider</text>
<text x="1815" y="365" font-size="72" textLength="312" lengthAdjust="spacingAndGlyphs">DX guider</text>

<!-- ================= AXES / TICKS ================= -->
<g fill="none" stroke="#000">
<rect x="331" y="166.7" width="3100" height="1050" stroke-width="4"/>
<rect x="331" y="1426.7" width="3100" height="1050" stroke-width="4"/>
<line x1="329.25" y1="1208.2" x2="3433" y2="1208.2" stroke-width="17" stroke-dasharray="3.5 51.857"/>
<line x1="329.25" y1="175.2" x2="3433" y2="175.2" stroke-width="17" stroke-dasharray="3.5 51.857"/>
<line x1="329.25" y1="1200.7" x2="3433" y2="1200.7" stroke-width="32" stroke-dasharray="3.5 217.93"/>
<line x1="329.25" y1="182.7" x2="3433" y2="182.7" stroke-width="32" stroke-dasharray="3.5 217.93"/>
<line x1="339.5" y1="1218.45" x2="339.5" y2="164.9" stroke-width="17" stroke-dasharray="3.5 31.5"/>
<line x1="3422.5" y1="1218.45" x2="3422.5" y2="164.9" stroke-width="17" stroke-dasharray="3.5 31.5"/>
<line x1="347" y1="1218.45" x2="347" y2="164.9" stroke-width="32" stroke-dasharray="3.5 171.5"/>
<line x1="3415" y1="1218.45" x2="3415" y2="164.9" stroke-width="32" stroke-dasharray="3.5 171.5"/>
<line x1="329.25" y1="2468.2" x2="3433" y2="2468.2" stroke-width="17" stroke-dasharray="3.5 51.857"/>
<line x1="329.25" y1="1435.2" x2="3433" y2="1435.2" stroke-width="17" stroke-dasharray="3.5 51.857"/>
<line x1="329.25" y1="2460.7" x2="3433" y2="2460.7" stroke-width="32" stroke-dasharray="3.5 217.93"/>
<line x1="329.25" y1="1442.7" x2="3433" y2="1442.7" stroke-width="32" stroke-dasharray="3.5 217.93"/>
<line x1="339.5" y1="1424.95" x2="339.5" y2="2478.5" stroke-width="17" stroke-dasharray="3.5 15.59"/>
<line x1="3422.5" y1="1424.95" x2="3422.5" y2="2478.5" stroke-width="17" stroke-dasharray="3.5 15.59"/>
<line x1="348" y1="1424.95" x2="348" y2="2478.5" stroke-width="34" stroke-dasharray="3.5 91.95"/>
<line x1="3414" y1="1424.95" x2="3414" y2="2478.5" stroke-width="34" stroke-dasharray="3.5 91.95"/>
</g>

<!-- ================= TEXT ================= -->
<g fill="#000">
<text x="1880" y="116" font-size="82" text-anchor="middle" textLength="1707" lengthAdjust="spacingAndGlyphs">LBT AGw guide star data for 2025-12-18 UTC</text>
<text transform="translate(126 691.7) rotate(-90)" font-size="86" text-anchor="middle" textLength="1028" lengthAdjust="spacingAndGlyphs">FWHM [arcsec] &amp; ellipticity</text>
<text transform="translate(150 1954) rotate(-90)" font-size="86" text-anchor="middle" textLength="742" lengthAdjust="spacingAndGlyphs">Instrumental R Mag</text>
<text x="1879" y="2697" font-size="84" text-anchor="middle" textLength="1392" lengthAdjust="spacingAndGlyphs">Time (UT Hours) for 2025-12-18 UTC</text>

<g font-size="84" text-anchor="end">
<text x="285" y="1245.2">0.0</text>
<text x="285" y="1070.2">0.5</text>
<text x="285" y="895.2">1.0</text>
<text x="285" y="720.2">1.5</text>
<text x="285" y="545.2">2.0</text>
<text x="285" y="370.2">2.5</text>
<text x="285" y="195.2">3.0</text>
<text x="283" y="1455.2">8</text>
<text x="283" y="1550.65">9</text>
<text x="283" y="1646.1">10</text>
<text x="283" y="1741.55">11</text>
<text x="283" y="1837">12</text>
<text x="283" y="1932.45">13</text>
<text x="283" y="2027.9">14</text>
<text x="283" y="2123.35">15</text>
<text x="283" y="2218.8">16</text>
<text x="283" y="2314.25">17</text>
<text x="283" y="2409.7">18</text>
<text x="283" y="2505.15">19</text>
</g>

<g font-size="84" text-anchor="middle">
<text x="331" y="1317">0</text><text x="552.43" y="1317">1</text><text x="773.86" y="1317">2</text><text x="995.29" y="1317">3</text><text x="1216.71" y="1317">4</text><text x="1438.14" y="1317">5</text><text x="1659.57" y="1317">6</text><text x="1881" y="1317">7</text><text x="2102.43" y="1317">8</text><text x="2323.86" y="1317">9</text><text x="2545.29" y="1317">10</text><text x="2766.71" y="1317">11</text><text x="2988.14" y="1317">12</text><text x="3209.57" y="1317">13</text><text x="3431" y="1317">14</text>
<text x="331" y="2577">0</text><text x="552.43" y="2577">1</text><text x="773.86" y="2577">2</text><text x="995.29" y="2577">3</text><text x="1216.71" y="2577">4</text><text x="1438.14" y="2577">5</text><text x="1659.57" y="2577">6</text><text x="1881" y="2577">7</text><text x="2102.43" y="2577">8</text><text x="2323.86" y="2577">9</text><text x="2545.29" y="2577">10</text><text x="2766.71" y="2577">11</text><text x="2988.14" y="2577">12</text><text x="3209.57" y="2577">13</text><text x="3431" y="2577">14</text>
</g>
</g>
</svg>
</body></html>
